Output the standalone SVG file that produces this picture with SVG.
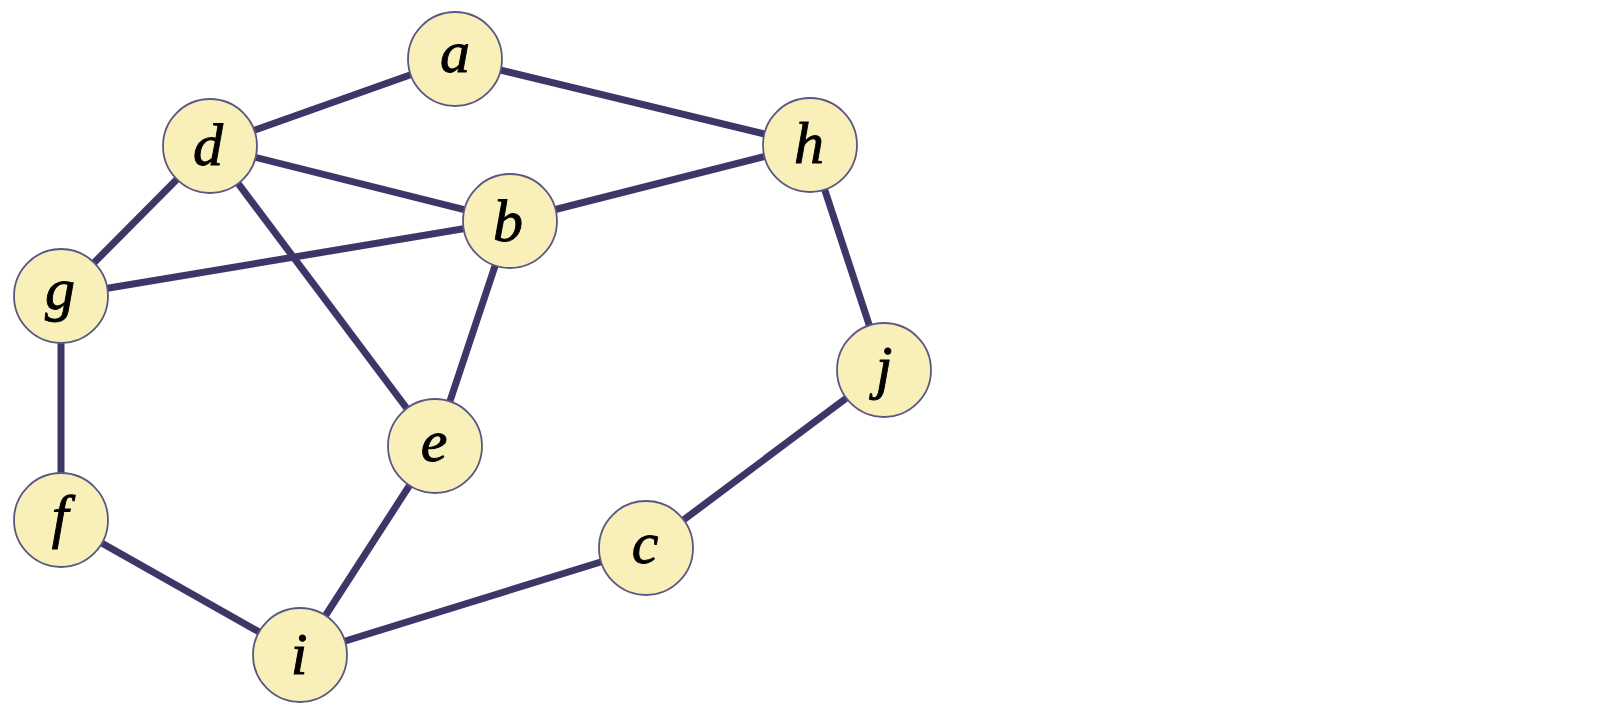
<svg xmlns="http://www.w3.org/2000/svg" width="1598" height="710" viewBox="0 0 1598 710">
<style>
.edge{stroke:#3d3768;stroke-width:7;stroke-linecap:butt;fill:none}
.node circle{fill:#f8f0b8;stroke:#5c5782;stroke-width:1.8}
.node text{font-family:"Liberation Serif","DejaVu Serif",serif;font-style:italic;font-size:60px;fill:#000;stroke:#000;stroke-width:0.9;text-anchor:middle}
</style>
<rect width="1598" height="710" fill="#fff"/>
<g id="edges">
<line class="edge" x1="455" y1="59" x2="210" y2="146"/>
<line class="edge" x1="455" y1="59" x2="810" y2="145"/>
<line class="edge" x1="210" y1="146" x2="510" y2="221"/>
<line class="edge" x1="210" y1="146" x2="61" y2="296"/>
<line class="edge" x1="210" y1="146" x2="435" y2="446"/>
<line class="edge" x1="510" y1="221" x2="810" y2="145"/>
<line class="edge" x1="510" y1="221" x2="61" y2="296"/>
<line class="edge" x1="510" y1="221" x2="435" y2="446"/>
<line class="edge" x1="61" y1="296" x2="61" y2="520"/>
<line class="edge" x1="810" y1="145" x2="884" y2="370"/>
<line class="edge" x1="884" y1="370" x2="646" y2="548"/>
<line class="edge" x1="435" y1="446" x2="300" y2="655"/>
<line class="edge" x1="61" y1="520" x2="300" y2="655"/>
<line class="edge" x1="646" y1="548" x2="300" y2="655"/>
</g>
<g id="node-a" class="node"><circle cx="455" cy="59" r="47"/><text x="455" y="72">a</text></g>
<g id="node-d" class="node"><circle cx="210" cy="146" r="47"/><text x="208" y="165">d</text></g>
<g id="node-h" class="node"><circle cx="810" cy="145" r="47"/><text x="809" y="163">h</text></g>
<g id="node-b" class="node"><circle cx="510" cy="221" r="47"/><text x="508" y="241">b</text></g>
<g id="node-g" class="node"><circle cx="61" cy="296" r="47"/><text x="60" y="309">g</text></g>
<g id="node-j" class="node"><circle cx="884" cy="370" r="47"/><text x="884" y="387">j</text></g>
<g id="node-e" class="node"><circle cx="435" cy="446" r="47"/><text x="434" y="461">e</text></g>
<g id="node-f" class="node"><circle cx="61" cy="520" r="47"/><text x="60" y="536">f</text></g>
<g id="node-c" class="node"><circle cx="646" cy="548" r="47"/><text x="645" y="563">c</text></g>
<g id="node-i" class="node"><circle cx="300" cy="655" r="47"/><text x="299" y="674">i</text></g>
</svg>
